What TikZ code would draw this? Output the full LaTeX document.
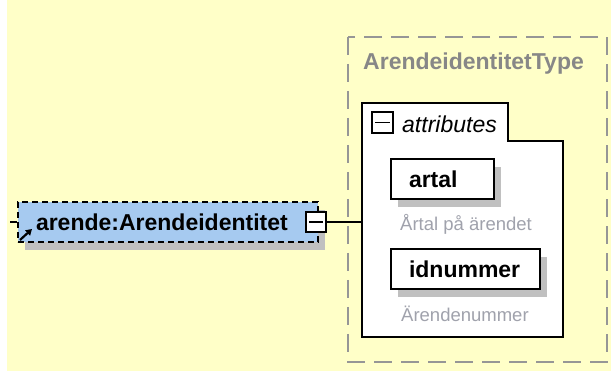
\documentclass[tikz,border=0pt]{standalone}
\usepackage{fontspec}
\setmainfont{Liberation Sans}
\usetikzlibrary{arrows.meta}
\definecolor{bgyellow}{RGB}{255,255,200}
\definecolor{elblue}{RGB}{166,202,240}
\definecolor{shadowgray}{RGB}{192,192,192}
\definecolor{titlegray}{RGB}{135,135,135}
\definecolor{framegray}{RGB}{150,150,150}
\definecolor{descgray}{RGB}{160,162,172}
\tikzset{
  bigfont/.style={font=\fontsize{23}{26}\selectfont},
  descfont/.style={font=\fontsize{18.5}{21}\selectfont},
  elembox/.style={draw=black, line width=2pt, dash pattern=on 6pt off 4pt, fill=elblue, minimum height=40pt, inner xsep=18pt, inner ysep=0pt, bigfont, font=\fontsize{23}{26}\selectfont\bfseries, anchor=west},
  attrbox/.style={draw=black, line width=2pt, fill=white, minimum height=40pt, inner xsep=18pt, inner ysep=0pt, font=\fontsize{23}{26}\selectfont\bfseries, anchor=west},
  shadowbox/.style={fill=shadowgray, draw=none, inner sep=0pt},
  minusbox/.style={draw=black, line width=1.6pt, fill=white, minimum size=20pt, inner sep=0pt},
  conn/.style={draw=black, line width=1.6pt},
  desc/.style={descfont, text=descgray, anchor=west, inner sep=0pt},
}
\begin{document}
\begin{tikzpicture}[x=1pt,y=-1pt]
\useasboundingbox (0,0) rectangle (611,371);
\fill[white] (0,0) rectangle (611,371);
\fill[bgyellow] (7,0) rectangle (611,371);
% type frame
\draw[framegray, line width=2pt, dash pattern=on 18pt off 9pt] (348,37) rectangle (607,362);
\node[anchor=west, inner sep=0pt, text=titlegray, font=\fontsize{23}{26}\selectfont\bfseries] (title) at (363,64) {ArendeidentitetType};
% attributes group
\draw[black, line width=2pt, fill=white] (362,103) -- (508,103) -- (508,141) -- (563,141) -- (563,337) -- (362,337) -- cycle;
\coordinate (attrleft) at (362,222);
\node[minusbox, minimum size=21pt] (attrminus) at (382.5,122.5) {};
\draw[line width=1.6pt] ([xshift=4pt]attrminus.west) -- ([xshift=-4pt]attrminus.east);
\node[anchor=west, inner sep=0pt, font=\fontsize{23}{26}\selectfont\itshape] (attrtext) at (402,124) {attributes};
% artal
\fill[shadowgray] (398,167) rectangle (501,207);
\node[attrbox, text width=67pt] (artal) at (390,179) {artal};
\node[desc] (artaldesc) at (400,224) {Årtal på ärendet};
% idnummer
\fill[shadowgray] (398,257) rectangle (547,297);
\node[attrbox, text width=113pt] (idnr) at (390,269) {idnummer};
\node[desc] (idnrdesc) at (401,314) {Ärendenummer};
% element
\fill[shadowgray] (25,210) rectangle (325,250);
\node[elembox, text width=264pt] (elem) at (17,222) {arende:Arendeidentitet};
\coordinate (stub) at (10,222);
\draw[conn] (stub) -- (elem.west);
\node[minusbox] (elemminus) at (316,222) {};
\draw[line width=1.6pt] ([xshift=4pt]elemminus.west) -- ([xshift=-4pt]elemminus.east);
\draw[conn] (elemminus.east) -- (attrleft);
% reference arrow
\coordinate (arrtail) at (20,240);
\coordinate (arrhead) at (32,229);
\draw[line width=2.2pt, -{Triangle[length=6pt,width=7pt]}] (arrtail) -- (arrhead);
\end{tikzpicture}
\end{document}
